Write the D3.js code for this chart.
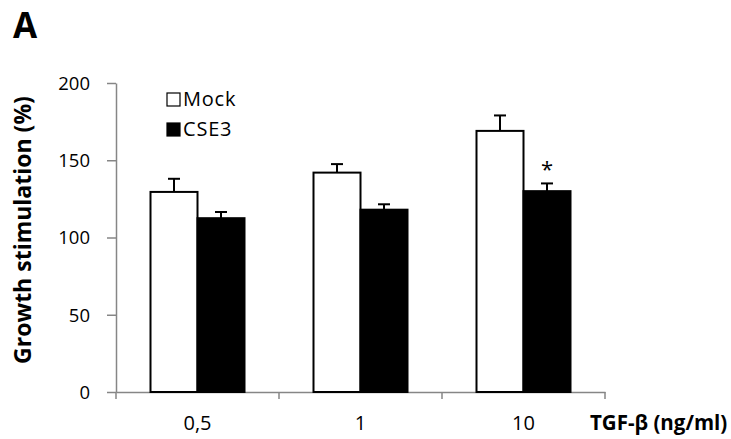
<!DOCTYPE html>
<html>
<head>
<meta charset="utf-8">
<script src="https://cdn.jsdelivr.net/npm/d3@7"></script>
<style>
body{margin:0;background:#fff}
text{font-family:"Open Sans","Liberation Sans",sans-serif}
</style>
</head>
<body>
<div class="chart"></div>
<script>
const doses=['0,5','1','10']
const series=['Mock','CSE3']
const mock=[129.5,142,169]
const mockErr=[8.5,5.5,10]
const cse3=[112.5,118,130]
const cse3Err=[4,3.5,5]
const stars=[false,false,true]
const yTicks=[0,50,100,150,200]

const W=731,H=439
const svg=d3.select('.chart').append('svg')
		.attr('width',W)
		.attr('height',H)

const x=d3.scaleBand()
		.domain(doses)
		.range([116,605])

const inner=d3.scaleBand()
		.domain(series)
		.range([0,94])

const y=d3.scaleLinear()
		.domain([0,200])
		.range([392,83])

// axes
const yAxis=d3.axisLeft(y).tickValues(yTicks).tickSize(9).tickSizeOuter(0)
const gy=svg.append('g').attr('transform','translate(116,0)').call(yAxis)
gy.select('.domain').attr('stroke','#868686').attr('stroke-width',1.5)
gy.selectAll('.tick line').attr('stroke','#868686').attr('stroke-width',1.5)
gy.selectAll('.tick text').attr('font-size',18.5).attr('fill','#000').attr('x',-26).attr('dy','0.35em')

const xAxis=d3.axisBottom(x).tickSize(0).tickSizeOuter(0)
const gx=svg.append('g').attr('transform','translate(0,392)').call(xAxis)
gx.select('.domain').attr('stroke','#868686').attr('stroke-width',1.5)
gx.selectAll('.tick text').attr('font-size',20).attr('fill','#000').attr('y',38).attr('dy',0)

// category separators
const seps=[...doses.map(d=>x(d)),x.range()[1]]
svg.selectAll('.sep').data(seps).enter().append('line')
	.attr('x1',d=>d).attr('x2',d=>d)
	.attr('y1',392).attr('y2',399)
	.attr('stroke','#868686').attr('stroke-width',1.5)

const rows=doses.map((d,i)=>[
	{dose:d,s:'Mock',v:mock[i],e:mockErr[i]},
	{dose:d,s:'CSE3',v:cse3[i],e:cse3Err[i],star:stars[i]}
]).flat()

const off=(x.bandwidth()-94)/2
const bx=d=>x(d.dose)+off+inner(d.s)

// error bars
const err=svg.selectAll('.err').data(rows).enter().append('g')
err.append('line')
	.attr('x1',d=>bx(d)+inner.bandwidth()/2).attr('x2',d=>bx(d)+inner.bandwidth()/2)
	.attr('y1',d=>y(d.v)).attr('y2',d=>y(d.v+d.e))
	.attr('stroke','#000').attr('stroke-width',2)
err.append('line')
	.attr('x1',d=>bx(d)+inner.bandwidth()/2-6).attr('x2',d=>bx(d)+inner.bandwidth()/2+6)
	.attr('y1',d=>y(d.v+d.e)).attr('y2',d=>y(d.v+d.e))
	.attr('stroke','#000').attr('stroke-width',2)

svg.selectAll('.bar').data(rows).enter().append('rect')
	.attr('class','bar')
	.attr('x',d=>bx(d))
	.attr('y',d=>y(d.v))
	.attr('width',inner.bandwidth())
	.attr('height',d=>y(0)-y(d.v))
	.attr('fill',d=>d.s=='Mock'?'#fff':'#000')
	.attr('stroke','#000')
	.attr('stroke-width',2)

svg.selectAll('.star').data(rows.filter(d=>d.star)).enter().append('text')
	.attr('x',d=>bx(d)+inner.bandwidth()/2)
	.attr('y',d=>y(d.v+d.e)-6)
	.attr('text-anchor','middle')
	.attr('font-size',22)
	.text('*')

// legend
const leg=svg.append('g').attr('transform','translate(167,93)')
series.forEach((s,i)=>{
	leg.append('rect')
		.attr('x',0).attr('y',i*30)
		.attr('width',13).attr('height',13)
		.attr('fill',i==0?'#fff':'#000')
		.attr('stroke','#000').attr('stroke-width',1.2)
	leg.append('text')
		.attr('x',16).attr('y',i*30+13)
		.attr('font-size',20)
		.attr('letter-spacing',0.8)
		.text(s)
})

// titles
svg.append('text')
	.attr('transform','translate(31,230) rotate(-90)')
	.attr('text-anchor','middle')
	.attr('font-size',23)
	.attr('font-weight','bold')
	.text('Growth stimulation (%)')

svg.append('text')
	.attr('x',590).attr('y',430)
	.attr('font-size',20.5)
	.attr('font-weight','bold')
	.text('TGF-β (ng/ml)')

svg.append('text')
	.attr('x',13).attr('y',38)
	.attr('font-size',35)
	.attr('font-weight','bold')
	.text('A')
</script>
</body>
</html>
